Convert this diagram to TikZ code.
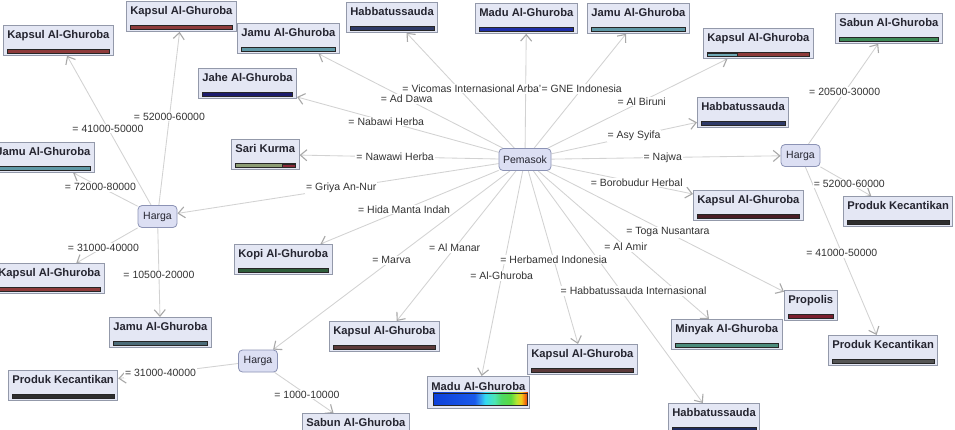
\documentclass[tikz,border=0pt]{standalone}
\usepackage{fontspec}
\setmainfont{Liberation Sans}
\usetikzlibrary{arrows.meta}
\pgfdeclarelayer{bg}
\pgfsetlayers{bg,main}
\definecolor{boxfill}{HTML}{E4E7F4}
\definecolor{boxline}{HTML}{9399AA}
\definecolor{hfill}{HTML}{DCDFF3}
\definecolor{hline}{HTML}{8C93B5}
\definecolor{edgec}{HTML}{D2D2D2}
\definecolor{tipc}{HTML}{A8A8A8}
\definecolor{lblc}{HTML}{333333}
\definecolor{txtc}{HTML}{252530}
\definecolor{kred}{HTML}{8E3B3B}
\definecolor{kbrown}{HTML}{5C3A3A}
\definecolor{kdark}{HTML}{4A1E26}
\definecolor{kteal}{HTML}{6FA8B5}
\definecolor{jteal}{HTML}{5E98A6}
\definecolor{jdark}{HTML}{4B6B78}
\definecolor{navy}{HTML}{1C1C6E}
\definecolor{navyb}{HTML}{1E2B5E}
\definecolor{navyc}{HTML}{2E3A68}
\definecolor{mblue}{HTML}{1F2FA8}
\definecolor{kopig}{HTML}{2F5E3B}
\definecolor{pkc}{HTML}{2E2E2E}
\definecolor{pkcb}{HTML}{555555}
\definecolor{sabg}{HTML}{3E8A58}
\definecolor{minc}{HTML}{4C8C7C}
\definecolor{propc}{HTML}{7A1E2E}
\definecolor{sarig}{HTML}{8C9C74}
\definecolor{sarired}{HTML}{8A2A3A}
\pgfdeclarehorizontalshading{madu}{100bp}{rgb(0bp)=(0.05,0.25,0.85); rgb(25bp)=(0.05,0.25,0.85); rgb(47bp)=(0.1,0.35,0.92); rgb(50bp)=(0.2,0.6,0.95); rgb(52.5bp)=(0.2,0.85,0.95); rgb(57.5bp)=(0.3,0.9,0.7); rgb(61bp)=(0.3,0.85,0.4); rgb(66bp)=(0.35,0.85,0.25); rgb(69bp)=(0.7,0.9,0.2); rgb(71.5bp)=(0.95,0.8,0.1); rgb(73.5bp)=(0.95,0.45,0.05); rgb(75bp)=(0.85,0.2,0.05); rgb(100bp)=(0.85,0.2,0.05)}
\tikzset{
  box/.style={draw=boxline, fill=boxfill, line width=0.8pt, anchor=north west,
    inner xsep=4pt, inner ysep=0pt, text height=13pt, text depth=17pt,
    font=\bfseries\fontsize{11.2}{13}\selectfont, text=txtc},
  barl/.style={draw=black!85, line width=0.6pt},
  pbox/.style={box, path picture={\draw[barl, fill=#1]
    ([shift={(4pt,2.5pt)}]path picture bounding box.south west) rectangle
    ([shift={(-4pt,6pt)}]path picture bounding box.south east);}},
  hnode/.style={draw=hline, fill=hfill, rounded corners=4pt, line width=0.8pt,
    font=\fontsize{10.5}{12}\selectfont, minimum height=22pt, inner xsep=4pt, text=txtc},
  edge/.style={draw=edgec, line width=0.85pt,
    -{Straight Barb[length=6.5pt, width=11pt, color=tipc, line width=1.1pt]}},
  lbl/.style={font=\fontsize{10.5}{12}\selectfont, fill=white, inner sep=1pt, text=lblc}
}
\begin{document}
\begin{tikzpicture}[x=1pt,y=-1pt]
\useasboundingbox (0,0) rectangle (955,429);
\clip (0,0) rectangle (955,429);
\begin{pgfonlayer}{bg}
\fill[white] (0,0) rectangle (955,429);
\end{pgfonlayer}

% product boxes
\node[pbox=kred] (k1) at (3,25) {Kapsul Al-Ghuroba};
\node[pbox=kred] (k2) at (126,1) {Kapsul Al-Ghuroba};
\node[pbox=jteal] (j1) at (237,23) {Jamu Al-Ghuroba};
\node[pbox=navy] (jahe) at (198,68) {Jahe Al-Ghuroba};
\node[pbox=sarig] (sari) at (231,139) {Sari Kurma};
\node[pbox=jteal] (j2) at (-8,142) {Jamu Al-Ghuroba};
\node[pbox=kred] (k3) at (-6,263) {Kapsul Al-Ghuroba};
\node[pbox=jdark] (j3) at (109,317) {Jamu Al-Ghuroba};
\node[pbox=kopig] (kopi) at (234,244) {Kopi Al-Ghuroba};
\node[pbox=pkc] (pk1) at (8,370) {Produk Kecantikan};
\node[pbox=sabg] (sab2) at (302,413) {Sabun Al-Ghuroba};
\node[pbox=kbrown] (k4) at (329,321) {Kapsul Al-Ghuroba};
\node[box, text height=14pt, text depth=18pt] (madu2) at (427,376) {Madu Al-Ghuroba};
\node[pbox=kbrown] (k5) at (527,344) {Kapsul Al-Ghuroba};
\node[pbox=navyb] (hab3) at (668,403) {Habbatussauda};
\node[pbox=minc] (min) at (671,319) {Minyak Al-Ghuroba};
\node[pbox=propc] (prop) at (784,290) {Propolis};
\node[pbox=pkcb] (pk3) at (828,335) {Produk Kecantikan};
\node[pbox=pkc] (pk2) at (843,196) {Produk Kecantikan};
\node[pbox=sabg] (sab1) at (835,13) {Sabun Al-Ghuroba};
\node[pbox=kred] (k6) at (703,28) {Kapsul Al-Ghuroba};
\node[pbox=navyc] (hab2) at (697,97) {Habbatussauda};
\node[pbox=kdark] (k7) at (693,190) {Kapsul Al-Ghuroba};
\node[pbox=jteal] (j4) at (587,3) {Jamu Al-Ghuroba};
\node[pbox=mblue] (madu1) at (475,3) {Madu Al-Ghuroba};
\node[pbox=navyc] (hab1) at (346,2) {Habbatussauda};

% bar details
\draw[barl, fill=sarired] ([shift={(-17pt,2.5pt)}]sari.south east) rectangle ([shift={(-4pt,6pt)}]sari.south east);
\draw[barl, fill=kteal] ([shift={(4pt,2.5pt)}]k6.south west) rectangle ([shift={(34pt,6pt)}]k6.south west);
\draw[barl, shading=madu] ([shift={(6pt,4pt)}]madu2.south west) rectangle ([shift={(-2pt,16pt)}]madu2.south east);

% hubs
\node[hnode, minimum width=52pt] (pem) at (525,159.5) {Pemasok};
\node[hnode, minimum width=39pt] (hL) at (157.5,216.5) {Harga};
\node[hnode, minimum width=39pt] (hB) at (258,361) {Harga};
\node[hnode, minimum width=39pt] (hR) at (800.5,155.5) {Harga};

% connectors
\begin{pgfonlayer}{bg}
\foreach \t in {hab1,madu1,j4,j1,jahe,sari,hL,kopi,hB,k4,madu2,k5,hab3,min,prop,k7,hR,hab2,k6}
  {\draw[edge] (pem) -- (\t);}
\foreach \t in {k1,k2,j2,k3,j3}
  {\draw[edge] (hL) -- (\t);}
\foreach \t in {pk1,sab2}
  {\draw[edge] (hB) -- (\t);}
\foreach \t in {sab1,pk2,pk3}
  {\draw[edge] (hR) -- (\t);}
\end{pgfonlayer}

% labels
\path (pem.center) -- node[lbl] {= Arba'i} (madu1.center);
\path (pem.center) -- node[lbl] {= Vicomas Internasional} (hab1.center);
\path (pem.center) -- node[lbl] {= GNE Indonesia} (j4.center);
\path (pem.center) -- node[lbl] {= Ad Dawa} (j1.center);
\path (pem.center) -- node[lbl] {= Nabawi Herba} (jahe.center);
\path (pem.center) -- node[lbl] {= Nawawi Herba} (sari.center);
\path (pem.center) -- node[lbl] {= Griya An-Nur} (hL.center);
\path (pem.center) -- node[lbl] {= Hida Manta Indah} (kopi.center);
\path (pem.center) -- node[lbl] {= Marva} (hB.center);
\path (pem.center) -- node[lbl] {= Al Manar} (k4.center);
\path (pem.center) -- node[lbl] {= Al-Ghuroba} (madu2.center);
\path (pem.center) -- node[lbl] {= Herbamed Indonesia} (k5.center);
\path (pem.center) -- node[lbl, xshift=14pt, yshift=-2pt] {= Habbatussauda Internasional} (hab3.center);
\path (pem.center) -- node[lbl] {= Al Amir} (min.center);
\path (pem.center) -- node[lbl] {= Toga Nusantara} (prop.center);
\path (pem.center) -- node[lbl] {= Borobudur Herbal} (k7.center);
\path (pem.center) -- node[lbl] {= Najwa} (hR.center);
\path (pem.center) -- node[lbl] {= Asy Syifa} (hab2.center);
\path (pem.center) -- node[lbl] {= Al Biruni} (k6.center);
\path (hL.center) -- node[lbl] {= 41000-50000} (k1.center);
\path (hL.center) -- node[lbl] {= 52000-60000} (k2.center);
\path (hL.center) -- node[lbl] {= 72000-80000} (j2.center);
\path (hL.center) -- node[lbl] {= 31000-40000} (k3.center);
\path (hL.center) -- node[lbl] {= 10500-20000} (j3.center);
\path (hB.center) -- node[lbl] {= 31000-40000} (pk1.center);
\path (hB.center) -- node[lbl] {= 1000-10000} (sab2.center);
\path (hR.center) -- node[lbl] {= 20500-30000} (sab1.center);
\path (hR.center) -- node[lbl] {= 52000-60000} (pk2.center);
\path (hR.center) -- node[lbl] {= 41000-50000} (pk3.center);
\end{tikzpicture}
\end{document}
